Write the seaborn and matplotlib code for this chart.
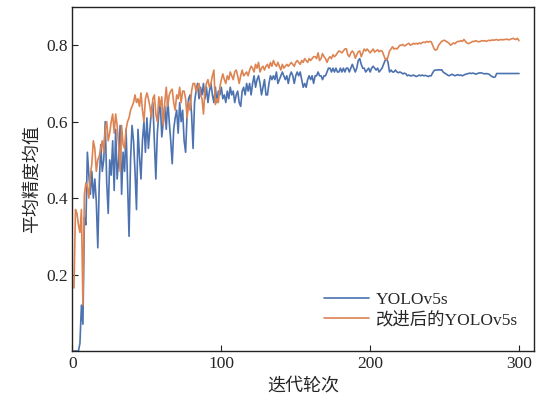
import numpy as np
import pandas as pd
import seaborn as sns
import matplotlib
matplotlib.use("Agg")
import matplotlib.pyplot as plt

# epochs 1..300
epochs = list(range(1, 301))

# mAP of the baseline YOLOv5s
yolo_map = [
    0.0, 0.0, 0.0, 0.0, 0.02, 0.12, 0.07, 0.35, 0.33, 0.52,
    0.46, 0.41, 0.47, 0.40, 0.45, 0.39, 0.27, 0.44, 0.54, 0.47,
    0.50, 0.60, 0.44, 0.36, 0.50, 0.46, 0.55, 0.42, 0.58, 0.45,
    0.50, 0.59, 0.41, 0.52, 0.47, 0.58, 0.44, 0.30, 0.50, 0.59,
    0.55, 0.47, 0.37, 0.58, 0.51, 0.45, 0.55, 0.60, 0.52, 0.61,
    0.53, 0.58, 0.63, 0.65, 0.55, 0.45, 0.57, 0.62, 0.65, 0.56,
    0.60, 0.64, 0.58, 0.66, 0.60, 0.55, 0.49, 0.58, 0.61, 0.63,
    0.57, 0.65, 0.60, 0.63, 0.55, 0.52, 0.62, 0.66, 0.67, 0.62,
    0.53, 0.65, 0.68, 0.70, 0.66, 0.69, 0.67, 0.70, 0.66, 0.69,
    0.65, 0.68, 0.70, 0.67, 0.65, 0.69, 0.65, 0.68, 0.67, 0.69,
    0.66, 0.67, 0.65, 0.68, 0.66, 0.69, 0.67, 0.68, 0.65, 0.67,
    0.68, 0.65, 0.64, 0.68, 0.69, 0.67, 0.70, 0.68, 0.70, 0.67,
    0.70, 0.72, 0.69, 0.71, 0.72, 0.70, 0.67, 0.69, 0.71, 0.67,
    0.67, 0.70, 0.72, 0.71, 0.72, 0.71, 0.73, 0.70, 0.71, 0.72,
    0.73, 0.72, 0.71, 0.72, 0.70, 0.72, 0.73, 0.72, 0.70, 0.72,
    0.73, 0.72, 0.73, 0.71, 0.69, 0.70, 0.69, 0.71, 0.72, 0.71,
    0.72, 0.70, 0.72, 0.72, 0.73, 0.72, 0.72, 0.71, 0.72, 0.72,
    0.73, 0.74, 0.74, 0.73, 0.74, 0.73, 0.74, 0.73, 0.73, 0.74,
    0.73, 0.74, 0.73, 0.74, 0.74, 0.73, 0.74, 0.75, 0.74, 0.73,
    0.74, 0.76, 0.765, 0.75, 0.74, 0.74, 0.73, 0.735, 0.74, 0.73,
    0.74, 0.745, 0.74, 0.735, 0.74, 0.73, 0.735, 0.74, 0.75, 0.76,
    0.765, 0.755, 0.73, 0.735, 0.73, 0.73, 0.735, 0.73, 0.728, 0.73,
    0.728, 0.725, 0.727, 0.725, 0.72, 0.722, 0.72, 0.72, 0.722, 0.72,
    0.718, 0.72, 0.722, 0.72, 0.722, 0.72, 0.721, 0.72, 0.718, 0.72,
    0.72, 0.728, 0.734, 0.735, 0.735, 0.736, 0.735, 0.736, 0.73, 0.727,
    0.725, 0.722, 0.72, 0.722, 0.724, 0.722, 0.72, 0.722, 0.723, 0.721,
    0.722, 0.72, 0.722, 0.724, 0.725, 0.726, 0.727, 0.726, 0.727, 0.726,
    0.724, 0.726, 0.727, 0.728, 0.727, 0.726, 0.725, 0.726, 0.725, 0.724,
    0.72, 0.718, 0.716, 0.717, 0.726, 0.726, 0.726, 0.726, 0.726, 0.726,
    0.726, 0.726, 0.726, 0.726, 0.726, 0.726, 0.726, 0.726, 0.726, 0.726,
]

# mAP of the improved model
improved_map = [
    0.165, 0.37, 0.36, 0.33, 0.31, 0.37, 0.12, 0.41, 0.44, 0.43,
    0.40, 0.46, 0.49, 0.55, 0.53, 0.47, 0.50, 0.51, 0.53, 0.55,
    0.52, 0.58, 0.60, 0.55, 0.57, 0.60, 0.62, 0.57, 0.62, 0.59,
    0.54, 0.47, 0.59, 0.54, 0.53, 0.58, 0.60, 0.61, 0.63, 0.64,
    0.65, 0.67, 0.65, 0.66, 0.64, 0.675, 0.63, 0.60, 0.66, 0.675,
    0.66, 0.64, 0.61, 0.66, 0.67, 0.62, 0.60, 0.665, 0.64, 0.665,
    0.59, 0.65, 0.69, 0.64, 0.67, 0.68, 0.685, 0.65, 0.63, 0.67,
    0.66, 0.69, 0.65, 0.68, 0.68, 0.66, 0.61, 0.65, 0.63, 0.68,
    0.70, 0.70, 0.68, 0.69, 0.70, 0.67, 0.66, 0.62, 0.68, 0.70,
    0.71, 0.69, 0.70, 0.72, 0.735, 0.645, 0.66, 0.65, 0.69, 0.71,
    0.725, 0.71, 0.70, 0.72, 0.71, 0.73, 0.72, 0.71, 0.73, 0.735,
    0.72, 0.70, 0.72, 0.735, 0.72, 0.725, 0.73, 0.72, 0.735, 0.745,
    0.74, 0.73, 0.75, 0.74, 0.755, 0.73, 0.74, 0.745, 0.735, 0.745,
    0.75, 0.74, 0.755, 0.745, 0.76, 0.75, 0.745, 0.755, 0.745, 0.735,
    0.75, 0.74, 0.745, 0.75, 0.745, 0.75, 0.755, 0.75, 0.745, 0.755,
    0.76, 0.755, 0.75, 0.76, 0.755, 0.765, 0.76, 0.755, 0.765, 0.76,
    0.765, 0.77, 0.77, 0.765, 0.78, 0.76, 0.765, 0.778, 0.77, 0.765,
    0.755, 0.765, 0.77, 0.765, 0.775, 0.77, 0.774, 0.78, 0.785, 0.783,
    0.78, 0.785, 0.79, 0.791, 0.775, 0.77, 0.78, 0.785, 0.78, 0.766,
    0.775, 0.783, 0.785, 0.77, 0.78, 0.79, 0.785, 0.79, 0.785, 0.78,
    0.785, 0.79, 0.782, 0.785, 0.788, 0.783, 0.786, 0.785, 0.775, 0.765,
    0.761, 0.77, 0.785, 0.79, 0.796, 0.79, 0.792, 0.79, 0.795, 0.80,
    0.80, 0.802, 0.798, 0.80, 0.803, 0.805, 0.80, 0.802, 0.805, 0.803,
    0.805, 0.803, 0.806, 0.804, 0.807, 0.808, 0.807, 0.81, 0.808, 0.81,
    0.809, 0.80, 0.79, 0.787, 0.79, 0.80, 0.805, 0.81, 0.812, 0.813,
    0.81, 0.808, 0.805, 0.80, 0.803, 0.806, 0.804, 0.808, 0.81, 0.81,
    0.812, 0.81, 0.815, 0.81, 0.806, 0.804, 0.806, 0.808, 0.81, 0.81,
    0.812, 0.81, 0.809, 0.81, 0.812, 0.811, 0.812, 0.81, 0.812, 0.813,
    0.812, 0.814, 0.813, 0.814, 0.815, 0.813, 0.814, 0.815, 0.814, 0.815,
    0.815, 0.816, 0.814, 0.815, 0.817, 0.818, 0.816, 0.815, 0.818, 0.812,
]

labels = ["YOLOv5s", "改进后的YOLOv5s"]
y_ticks = [0.2, 0.4, 0.6, 0.8]
x_ticks = [0, 100, 200, 300]

df = pd.concat([
    pd.DataFrame({"epoch": epochs, "map": yolo_map, "model": labels[0]}),
    pd.DataFrame({"epoch": epochs, "map": improved_map, "model": labels[1]}),
])

sns.set_theme(style="ticks")
plt.rcParams["font.family"] = ["Liberation Serif", "Noto Sans CJK SC"]
plt.rcParams["xtick.direction"] = "in"
plt.rcParams["ytick.direction"] = "in"

fig = plt.figure(figsize=(5.39, 4.0), dpi=100)
ax = fig.add_axes([0.1345, 0.1225, 0.856, 0.86])

sns.lineplot(data=df, x="epoch", y="map", hue="model",
             palette=["#4c72b0", "#dd8452"], linewidth=1.2, ax=ax)

ax.set_xlim(0, 310)
ax.set_ylim(0, 0.9)
ax.set_xticks(x_ticks)
ax.set_yticks(y_ticks)
ax.tick_params(labelsize=12.5, length=4, width=0.8, color="#222222")
ax.set_xlabel("迭代轮次", fontsize=13)
ax.set_ylabel("平均精度均值", fontsize=13)
for s in ax.spines.values():
    s.set_linewidth(1.0)
    s.set_color("#222222")

leg = ax.legend(loc="lower right", bbox_to_anchor=(1.0, 0.02), frameon=False,
                fontsize=12.5, handlelength=2.6, handletextpad=0.4,
                labelspacing=0.25)

fig.savefig("out.png", dpi=100)
